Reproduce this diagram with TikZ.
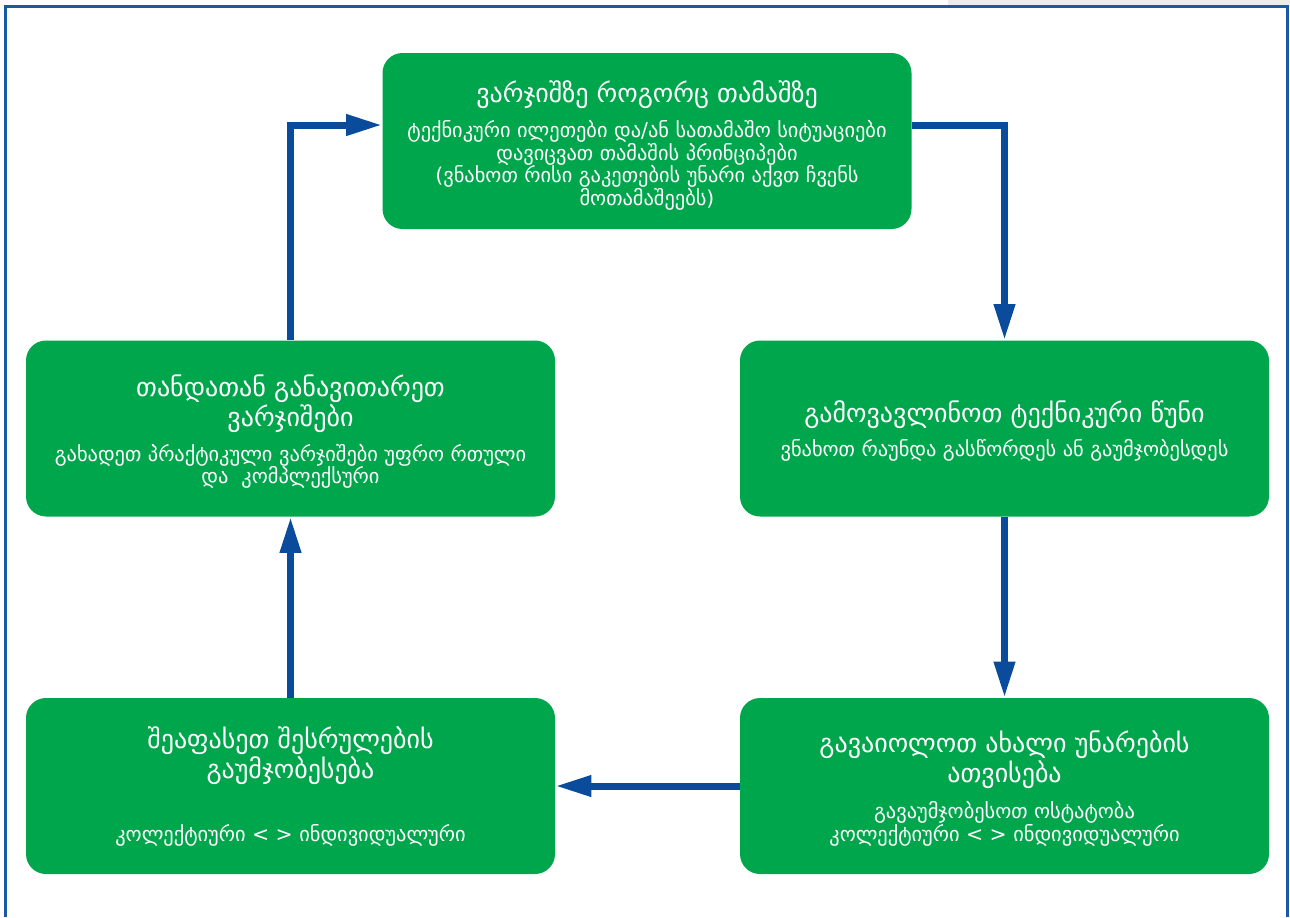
\documentclass[tikz,border=0pt]{standalone}
\usepackage{fontspec}
\setmainfont{DejaVu Sans}
\usetikzlibrary{arrows.meta}
\definecolor{boxgreen}{HTML}{00A64C}
\definecolor{arrowblue}{HTML}{0A4B9B}
\definecolor{frameblue}{HTML}{1A5AA5}
\definecolor{stripgrey}{HTML}{ECECEC}
\tikzset{
  stepbox/.style={fill=boxgreen, draw=none, rounded corners=10pt,
    minimum width=264.5pt, minimum height=88pt, inner sep=0pt},
  titletext/.style={text=white, align=center, inner sep=0pt,
    font=\fontsize{13}{13.2}\selectfont},
  bodytext/.style={text=white, align=center, inner sep=0pt,
    font=\fontsize{10.2}{11.3}\selectfont},
  flow/.style={draw=arrowblue, line width=3.5pt,
    -{Triangle[length=18pt,width=10pt]}},
}
\begin{document}
\begin{tikzpicture}[x=0.5pt,y=-0.5pt]
\useasboundingbox (0,0) rectangle (1290,917);
\fill[stripgrey] (948,0) rectangle (1290,5);
\draw[frameblue, line width=1.6pt] (5.5,917) -- (5.5,6.5) -- (1287.5,6.5) -- (1287.5,917);

% boxes
\node[stepbox] (top) at (647,141) {};
\node[stepbox] (lm) at (290.5,428.5) {};
\node[stepbox] (rm) at (1004.5,428.5) {};
\node[stepbox] (bl) at (290.5,786) {};
\node[stepbox] (br) at (1004.5,786) {};

% texts
\node[titletext] (topT) at (647,95) {ვარჯიშზე როგორც თამაშზე};
\node[bodytext] (topB) at (647,165.5) {ტექნიკური ილეთები და/ან სათამაშო სიტუაციები\\დავიცვათ თამაშის პრინციპები\\(ვნახოთ რისი გაკეთების უნარი აქვთ ჩვენს\\მოთამაშეებს)};

\node[titletext] (lmT) at (290.5,403.5) {თანდათან განავითარეთ\\ვარჯიშები};
\node[bodytext] (lmB) at (290.5,466.5) {გახადეთ პრაქტიკული ვარჯიშები უფრო რთული\\და~~კომპლექსური};

\node[titletext] (rmT) at (1004.5,415) {გამოვავლინოთ ტექნიკური წუნი};
\node[bodytext] (rmB) at (1004.5,450) {ვნახოთ რაუნდა გასწორდეს ან გაუმჯობესდეს};

\node[titletext] (blT) at (290.5,755.5) {შეაფასეთ შესრულების\\გაუმჯობესება};
\node[bodytext] (blB) at (290.5,835) {კოლექტიური < > ინდივიდუალური};

\node[titletext] (brT) at (1004.5,759.5) {გავაიოლოთ ახალი უნარების\\ათვისება};
\node[bodytext] (brB) at (1004.5,824) {გავაუმჯობესოთ ოსტატობა\\კოლექტიური < > ინდივიდუალური};

% connectors
\draw[flow] ([yshift=8pt]top.east) -| (rm.north);
\draw[flow] (rm.south) -- (br.north);
\draw[flow] (br.west) -- (bl.east);
\draw[flow] (bl.north) -- (lm.south);
\draw[flow] (lm.north) |- ([yshift=8pt]top.west);
\end{tikzpicture}
\end{document}
